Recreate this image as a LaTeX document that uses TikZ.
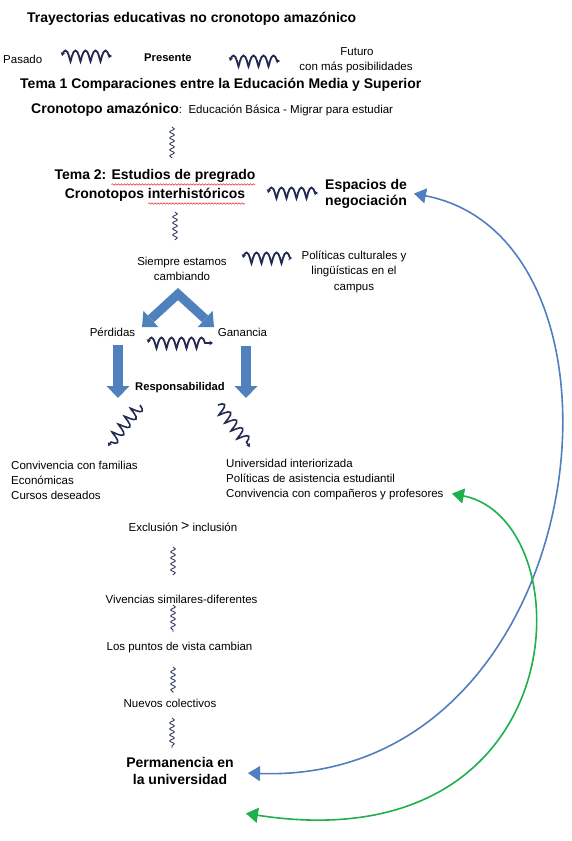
\documentclass[tikz,border=0pt]{standalone}
\usepackage{fontspec}
\setmainfont{Liberation Sans}
\usetikzlibrary{arrows.meta,decorations.pathmorphing}
\definecolor{wavec}{HTML}{232A52}
\definecolor{fatblue}{HTML}{4F81BD}
\definecolor{curveblue}{HTML}{4F7FBF}
\definecolor{curvegreen}{HTML}{1DB04C}
\definecolor{spellred}{HTML}{E8332A}
\begin{document}
\begin{tikzpicture}[x=1pt,y=-1pt,
 reg/.style={font=\fontsize{11.5}{15}\selectfont, inner sep=0pt, align=center},
 regl/.style={font=\fontsize{11.5}{15}\selectfont, inner sep=0pt, align=left, anchor=west},
 sbold/.style={font=\fontsize{11.2}{14}\selectfont\bfseries, inner sep=0pt},
 heading/.style={font=\fontsize{14}{19}\selectfont\bfseries, inner sep=0pt, align=center},
 hwave/.style={draw=wavec, line width=1.8pt, decorate, decoration={coil, aspect=0.18, amplitude=5.5pt, segment length=10pt},
   {Stealth[length=3.5pt,width=4.5pt]}-{Stealth[length=3.5pt,width=4.5pt]}},
 vwave/.style={draw=wavec, line width=0.8pt, decorate, decoration={snake, amplitude=2.3pt, segment length=6pt}},
 dwave/.style={draw=wavec, line width=1.6pt, decorate, decoration={coil, aspect=0.18, amplitude=5.5pt, segment length=10pt},
   -{Stealth[length=3.5pt,width=4.5pt]}},
 fatarrow/.style={draw=fatblue, line width=9pt, miter limit=10},
 bigcurve/.style={line width=1.6pt, {Triangle[length=12pt,width=15pt,sep=3pt]}-{Triangle[length=12pt,width=15pt,sep=3pt]}},
 spell/.style={draw=spellred, line width=0.5pt, decorate, decoration={snake, amplitude=0.8pt, segment length=3pt}}
]
\useasboundingbox (0,0) rectangle (572,841);

% ---- top ----
\node[heading, anchor=west] (title) at (27,19) {Trayectorias educativas no cronotopo amazónico};
\node[reg, anchor=west] (pasado) at (3,59) {Pasado};
\node[sbold, anchor=west] (presente) at (144,58) {Presente};
\node[reg] (futuro) at (357,52) {Futuro};
\node[reg] (conmas) at (356,67) {con más posibilidades};
\coordinate (wa1) at (62,56); \coordinate (wa2) at (112,56);
\coordinate (wb1) at (230,61); \coordinate (wb2) at (280,61);
\draw[hwave] (wa1) -- (wa2);
\draw[hwave] (wb1) -- (wb2);

\node[heading, anchor=west] (tema1) at (20,85) {Tema 1 Comparaciones entre la Educación Media y Superior};
\node[anchor=base west, inner sep=0pt] (crono) at (31,113)
  {\fontsize{14}{17}\selectfont\bfseries Cronotopo amazónico\fontsize{11.5}{15}\selectfont\mdseries:~~Educación Básica - Migrar para estudiar};

\coordinate (v1a) at (172,127); \coordinate (v1b) at (172,158);
\draw[vwave] (v1a) -- (v1b);

\node[heading] (tema2) at (155,185.5) {Tema 2: Estudios de pregrado\\Cronotopos interhistóricos};
\draw[spell] (111.5,184.5) -- (255,184.5);
\draw[spell] (148,203.5) -- (245,203.5);

\coordinate (wc1) at (268,193); \coordinate (wc2) at (318,193);
\draw[hwave] (wc1) -- (wc2);
\node[heading, align=left, anchor=west, font=\fontsize{14}{16.5}\selectfont\bfseries] (esp) at (325,194) {Espacios de\\negociación};

\coordinate (v2a) at (175,212); \coordinate (v2b) at (175,240);
\draw[vwave] (v2a) -- (v2b);

\node[reg] (siempre) at (182,268.5) {Siempre estamos\\cambiando};
\coordinate (wd1) at (243,258); \coordinate (wd2) at (292,258);
\draw[hwave] (wd1) -- (wd2);
\node[reg, font=\fontsize{11.5}{15.5}\selectfont] (pol) at (354,271.5) {Políticas culturales y\\lingüísticas en el\\campus};

% chevron
\coordinate (apex) at (178,294);
\coordinate (cl) at (142,327);
\coordinate (cr) at (214,327);
\draw[fatarrow, {Triangle[length=12pt,width=22pt,line width=0pt]}-{Triangle[length=12pt,width=22pt,line width=0pt]}] (cl) -- (apex) -- (cr);

\node[reg] (perd) at (112.5,332) {Pérdidas};
\node[reg] (gan) at (242.5,332) {Ganancia};
\coordinate (we1) at (148,343); \coordinate (we2) at (213,343);
\draw[hwave] (we1) -- (we2);

\coordinate (dl1) at (118,345); \coordinate (dl2) at (118,398);
\coordinate (dr1) at (246,346); \coordinate (dr2) at (246,398);
\draw[fatarrow, line width=10pt, -{Triangle[length=12pt,width=23pt,line width=0pt]}] (dl1) -- (dl2);
\draw[fatarrow, line width=10pt, -{Triangle[length=12pt,width=23pt,line width=0pt]}] (dr1) -- (dr2);

\node[sbold] (resp) at (180,388) {Responsabilidad};

\coordinate (xl1) at (140,405); \coordinate (xl2) at (108,446);
\coordinate (xr1) at (218,405); \coordinate (xr2) at (250,447);
\draw[dwave] (xl1) -- (xl2);
\draw[dwave] (xr1) -- (xr2);

\node[regl] (listl) at (11,480) {Convivencia con familias\\Económicas\\Cursos deseados};
\node[regl] (listr) at (226,480) {Universidad interiorizada\\Políticas de asistencia estudiantil\\Convivencia con compañeros y profesores};

% bottom chain
\node[reg] (excl) at (183,527) {Exclusión {\fontsize{14}{14}\selectfont\raisebox{0.5pt}{>}} inclusión};
\coordinate (v3a) at (173,547); \coordinate (v3b) at (173,575);
\draw[vwave] (v3a) -- (v3b);
\node[reg] (viv) at (181.5,599) {Vivencias similares-diferentes};
\coordinate (v4a) at (173,605); \coordinate (v4b) at (173,632);
\draw[vwave] (v4a) -- (v4b);
\node[reg] (puntos) at (179.5,648) {Los puntos de vista cambian};
\coordinate (v5a) at (173,667); \coordinate (v5b) at (173,693);
\draw[vwave] (v5a) -- (v5b);
\node[reg] (nuevos) at (170,703) {Nuevos colectivos};
\coordinate (v6a) at (172,718); \coordinate (v6b) at (172,748);
\draw[vwave] (v6a) -- (v6b);
\node[heading, font=\fontsize{14}{16.5}\selectfont\bfseries] (perm) at (180,771) {Permanencia en\\la universidad};

% big curves
\coordinate (bt) at (411,193); \coordinate (bb) at (245,773);
\draw[bigcurve, draw=curveblue, fill=none] (bt) .. controls (655,240) and (595,785) .. (bb);
\coordinate (gt) at (449,493); \coordinate (gb) at (243,813);
\draw[bigcurve, draw=curvegreen, fill=none] (gt) .. controls (585,520) and (580,865) .. (gb);
\end{tikzpicture}
\end{document}
